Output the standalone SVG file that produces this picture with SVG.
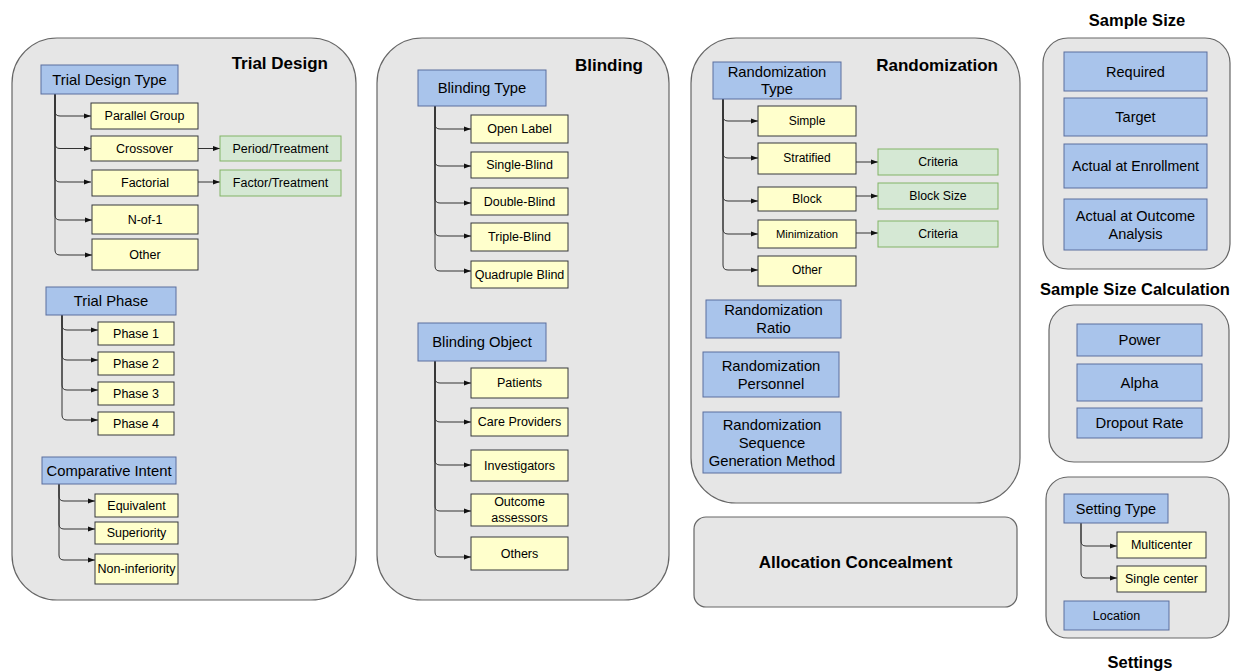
<svg xmlns="http://www.w3.org/2000/svg" width="1240" height="672" viewBox="0 0 1240 672">
  <style>
    text { font-family: "Liberation Sans", Arial, Helvetica, sans-serif; fill: #000; }
    .panel { fill: #e6e6e6; stroke: #666666; stroke-width: 1.2; }
    .title { font-weight: bold; font-size: 17px; }
    .head { fill: #a9c4eb; stroke: #5b6e9e; stroke-width: 1; }
    .opt { fill: #ffffcc; stroke: #36393d; stroke-width: 1; }
    .sub { fill: #d5e8d4; stroke: #82b366; stroke-width: 1; }
    .ht { font-size: 14.8px; text-anchor: middle; }
    .ot { font-size: 12.5px; text-anchor: middle; }
    .st { font-size: 12.5px; text-anchor: middle; }
    .edge { fill: none; stroke: #333333; stroke-width: 1; marker-end: url(#arrow); }
  </style>
  <defs>
    <marker id="arrow" viewBox="0 0 10 10" refX="10" refY="5" markerWidth="7" markerHeight="7" markerUnits="userSpaceOnUse" orient="auto">
      <path d="M0,1.5 L10,5 L0,8.5 Z" fill="#111111"/>
    </marker>
  </defs>

  <!-- ===== Panels ===== -->
  <g id="panel-trial-design">
    <rect class="panel" x="12" y="38" width="344" height="562" rx="45"/>
    <text class="title" x="328" y="69" text-anchor="end">Trial Design</text>
  </g>
  <g id="panel-blinding">
    <rect class="panel" x="377" y="38" width="292" height="562" rx="45"/>
    <text class="title" x="643" y="71" text-anchor="end">Blinding</text>
  </g>
  <g id="panel-randomization">
    <rect class="panel" x="691" y="38" width="329" height="465" rx="45"/>
    <text class="title" x="998" y="71" text-anchor="end">Randomization</text>
  </g>
  <g id="allocation-concealment">
    <rect class="panel" x="694" y="517" width="323" height="90" rx="12"/>
    <text class="title" x="855.5" y="562" dy="0.35em" text-anchor="middle">Allocation Concealment</text>
  </g>
  <g id="panel-sample-size">
    <text class="title" x="1137" y="26" text-anchor="middle" style="font-size:16.5px">Sample Size</text>
    <rect class="panel" x="1043" y="38" width="187" height="231" rx="25"/>
  </g>
  <g id="panel-sample-size-calculation">
    <text class="title" x="1135" y="295" text-anchor="middle" style="font-size:16.5px">Sample Size Calculation</text>
    <rect class="panel" x="1049" y="305" width="180" height="157" rx="25"/>
  </g>
  <g id="panel-settings">
    <rect class="panel" x="1046" y="477" width="183" height="161" rx="22"/>
    <text class="title" x="1140" y="668" text-anchor="middle" style="font-size:16.5px">Settings</text>
  </g>

  <!-- ===== Connectors ===== -->
  <g id="connectors">
    <!-- Trial Design Type -->
    <path class="edge" d="M55,94 V111 Q55,116 60,116 H91"/>
    <path class="edge" d="M55,94 V143.5 Q55,148.5 60,148.5 H91"/>
    <path class="edge" d="M55,94 V177 Q55,182 60,182 H91"/>
    <path class="edge" d="M55,94 V215 Q55,220 60,220 H92"/>
    <path class="edge" d="M55,94 V250 Q55,255 60,255 H92"/>
    <path class="edge" d="M198,148.5 H220"/>
    <path class="edge" d="M198,182 H220"/>
    <!-- Trial Phase -->
    <path class="edge" d="M62,315 V325 Q62,330 67,330 H98"/>
    <path class="edge" d="M62,315 V355 Q62,360 67,360 H98"/>
    <path class="edge" d="M62,315 V385 Q62,390 67,390 H98"/>
    <path class="edge" d="M62,315 V415 Q62,420 67,420 H98"/>
    <!-- Comparative Intent -->
    <path class="edge" d="M59,484 V496 Q59,501 64,501 H95"/>
    <path class="edge" d="M59,484 V524 Q59,529 64,529 H95"/>
    <path class="edge" d="M59,484 V555 Q59,560 64,560 H95"/>
    <!-- Blinding Type -->
    <path class="edge" d="M435,106 V124 Q435,129 440,129 H471"/>
    <path class="edge" d="M435,106 V161 Q435,166 440,166 H471"/>
    <path class="edge" d="M435,106 V198 Q435,203 440,203 H471"/>
    <path class="edge" d="M435,106 V231 Q435,236 440,236 H471"/>
    <path class="edge" d="M435,106 V266 Q435,271 440,271 H471"/>
    <!-- Blinding Object -->
    <path class="edge" d="M435,361 V378 Q435,383 440,383 H471"/>
    <path class="edge" d="M435,361 V417 Q435,422 440,422 H471"/>
    <path class="edge" d="M435,361 V460 Q435,465 440,465 H471"/>
    <path class="edge" d="M435,361 V506 Q435,511 440,511 H471"/>
    <path class="edge" d="M435,361 V552 Q435,557 440,557 H471"/>
    <!-- Randomization Type -->
    <path class="edge" d="M723,99 V116 Q723,121 728,121 H758"/>
    <path class="edge" d="M723,99 V153 Q723,158 728,158 H758"/>
    <path class="edge" d="M723,99 V196 Q723,201 728,201 H758"/>
    <path class="edge" d="M723,99 V229 Q723,234 728,234 H758"/>
    <path class="edge" d="M723,99 V265 Q723,270 728,270 H758"/>
    <path class="edge" d="M856,162 H878"/>
    <path class="edge" d="M856,196 H878"/>
    <path class="edge" d="M856,233 H878"/>
    <!-- Setting Type -->
    <path class="edge" d="M1081,523 V541 Q1081,546 1086,546 H1117"/>
    <path class="edge" d="M1081,523 V573 Q1081,578 1086,578 H1117"/>
  </g>

  <!-- ===== Trial Design nodes ===== -->
  <g id="trial-design-type"><rect class="head" x="41" y="65" width="137" height="29"/><text class="ht" x="109.5" y="79.5" dy="0.35em">Trial Design Type</text></g>
  <g id="parallel-group"><rect class="opt" x="91" y="103" width="107" height="26"/><text class="ot" x="144.5" y="116" dy="0.35em">Parallel Group</text></g>
  <g id="crossover"><rect class="opt" x="91" y="136" width="107" height="25"/><text class="ot" x="144.5" y="148.5" dy="0.35em">Crossover</text></g>
  <g id="factorial"><rect class="opt" x="92" y="170" width="106" height="26"/><text class="ot" x="145" y="183" dy="0.35em">Factorial</text></g>
  <g id="n-of-1"><rect class="opt" x="92" y="205" width="106" height="29"/><text class="ot" x="145" y="219.5" dy="0.35em">N-of-1</text></g>
  <g id="other-design"><rect class="opt" x="92" y="239" width="106" height="31"/><text class="ot" x="145" y="254.5" dy="0.35em">Other</text></g>
  <g id="period-treatment"><rect class="sub" x="220" y="136" width="121" height="25"/><text class="st" x="280.5" y="148.5" dy="0.35em">Period/Treatment</text></g>
  <g id="factor-treatment"><rect class="sub" x="220" y="170" width="121" height="26"/><text class="st" x="280.5" y="183" dy="0.35em">Factor/Treatment</text></g>

  <g id="trial-phase"><rect class="head" x="46" y="287" width="130" height="28"/><text class="ht" x="111" y="301" dy="0.35em">Trial Phase</text></g>
  <g id="phase-1"><rect class="opt" x="98" y="322" width="76" height="23"/><text class="ot" x="136" y="333.5" dy="0.35em">Phase 1</text></g>
  <g id="phase-2"><rect class="opt" x="98" y="352" width="76" height="23"/><text class="ot" x="136" y="363.5" dy="0.35em">Phase 2</text></g>
  <g id="phase-3"><rect class="opt" x="98" y="382" width="76" height="23"/><text class="ot" x="136" y="393.5" dy="0.35em">Phase 3</text></g>
  <g id="phase-4"><rect class="opt" x="98" y="412" width="76" height="23"/><text class="ot" x="136" y="423.5" dy="0.35em">Phase 4</text></g>

  <g id="comparative-intent"><rect class="head" x="42" y="457" width="134" height="27"/><text class="ht" x="109" y="470.5" dy="0.35em">Comparative Intent</text></g>
  <g id="equivalent"><rect class="opt" x="95" y="494" width="83" height="23"/><text class="ot" x="136.5" y="505.5" dy="0.35em">Equivalent</text></g>
  <g id="superiority"><rect class="opt" x="95" y="522" width="83" height="22"/><text class="ot" x="136.5" y="533" dy="0.35em">Superiority</text></g>
  <g id="non-inferiority"><rect class="opt" x="95" y="554" width="83" height="30"/><text class="ot" x="136.5" y="569" dy="0.35em">Non-inferiority</text></g>

  <!-- ===== Blinding nodes ===== -->
  <g id="blinding-type"><rect class="head" x="418" y="70" width="128" height="36"/><text class="ht" x="482" y="88" dy="0.35em">Blinding Type</text></g>
  <g id="open-label"><rect class="opt" x="471" y="115" width="97" height="28"/><text class="ot" x="519.5" y="129" dy="0.35em">Open Label</text></g>
  <g id="single-blind"><rect class="opt" x="471" y="152" width="97" height="26"/><text class="ot" x="519.5" y="165" dy="0.35em">Single-Blind</text></g>
  <g id="double-blind"><rect class="opt" x="471" y="188" width="97" height="27"/><text class="ot" x="519.5" y="201.5" dy="0.35em">Double-Blind</text></g>
  <g id="triple-blind"><rect class="opt" x="471" y="223" width="97" height="28"/><text class="ot" x="519.5" y="237" dy="0.35em">Triple-Blind</text></g>
  <g id="quadruple-blind"><rect class="opt" x="471" y="261" width="97" height="27"/><text class="ot" x="519.5" y="274.5" dy="0.35em">Quadruple Blind</text></g>

  <g id="blinding-object"><rect class="head" x="418" y="323" width="128" height="38"/><text class="ht" x="482" y="342" dy="0.35em">Blinding Object</text></g>
  <g id="patients"><rect class="opt" x="471" y="368" width="97" height="30"/><text class="ot" x="519.5" y="383" dy="0.35em">Patients</text></g>
  <g id="care-providers"><rect class="opt" x="471" y="408" width="97" height="28"/><text class="ot" x="519.5" y="422" dy="0.35em">Care Providers</text></g>
  <g id="investigators"><rect class="opt" x="471" y="450" width="97" height="31"/><text class="ot" x="519.5" y="465.5" dy="0.35em">Investigators</text></g>
  <g id="outcome-assessors"><rect class="opt" x="471" y="494" width="97" height="32"/><text class="ot" x="519.5" y="502" dy="0.35em">Outcome<tspan x="519.5" dy="16">assessors</tspan></text></g>
  <g id="others"><rect class="opt" x="471" y="537" width="97" height="33"/><text class="ot" x="519.5" y="553.5" dy="0.35em">Others</text></g>

  <!-- ===== Randomization nodes ===== -->
  <g id="randomization-type"><rect class="head" x="713" y="62" width="128" height="37"/><text class="ht" x="777" y="72" dy="0.35em">Randomization<tspan x="777" dy="17">Type</tspan></text></g>
  <g id="simple"><rect class="opt" x="758" y="106" width="98" height="30"/><text class="ot" x="807" y="121" dy="0.35em" style="font-size:12px">Simple</text></g>
  <g id="stratified"><rect class="opt" x="758" y="143" width="98" height="31"/><text class="ot" x="807" y="158" dy="0.35em" style="font-size:12px">Stratified</text></g>
  <g id="block"><rect class="opt" x="758" y="187" width="98" height="24"/><text class="ot" x="807" y="198.5" dy="0.35em" style="font-size:12px">Block</text></g>
  <g id="minimization"><rect class="opt" x="758" y="220" width="98" height="28"/><text class="ot" x="807" y="234" dy="0.35em" style="font-size:11.2px">Minimization</text></g>
  <g id="other-randomization"><rect class="opt" x="758" y="256" width="98" height="30"/><text class="ot" x="807" y="270" dy="0.35em" style="font-size:12px">Other</text></g>
  <g id="stratified-criteria"><rect class="sub" x="878" y="149" width="120" height="26"/><text class="st" x="938" y="162" dy="0.35em" style="font-size:12.3px">Criteria</text></g>
  <g id="block-size"><rect class="sub" x="878" y="183" width="120" height="26"/><text class="st" x="938" y="196" dy="0.35em" style="font-size:12.3px">Block Size</text></g>
  <g id="minimization-criteria"><rect class="sub" x="878" y="221" width="120" height="26"/><text class="st" x="938" y="234" dy="0.35em" style="font-size:12.3px">Criteria</text></g>

  <g id="randomization-ratio"><rect class="head" x="706" y="300" width="135" height="38"/><text class="ht" x="773.5" y="310" dy="0.35em">Randomization<tspan x="773.5" dy="18">Ratio</tspan></text></g>
  <g id="randomization-personnel"><rect class="head" x="703" y="352" width="136" height="45"/><text class="ht" x="771" y="366" dy="0.35em">Randomization<tspan x="771" dy="18">Personnel</tspan></text></g>
  <g id="randomization-sequence"><rect class="head" x="703" y="412" width="138" height="61"/><text class="ht" x="772" y="425" dy="0.35em">Randomization<tspan x="772" dy="18">Sequence</tspan><tspan x="772" dy="18">Generation Method</tspan></text></g>

  <!-- ===== Sample Size nodes ===== -->
  <g id="required"><rect class="head" x="1064" y="52" width="143" height="39"/><text class="ht" x="1135.5" y="71.5" dy="0.35em" style="font-size:14.5px">Required</text></g>
  <g id="target"><rect class="head" x="1064" y="98" width="143" height="38"/><text class="ht" x="1135.5" y="117" dy="0.35em" style="font-size:14.5px">Target</text></g>
  <g id="actual-enrollment"><rect class="head" x="1064" y="144" width="143" height="44"/><text class="ht" x="1135.5" y="166" dy="0.35em" style="font-size:14.2px">Actual at Enrollment</text></g>
  <g id="actual-outcome"><rect class="head" x="1064" y="199" width="143" height="51"/><text class="ht" x="1135.5" y="216" dy="0.35em" style="font-size:14.5px">Actual at Outcome<tspan x="1135.5" dy="18">Analysis</tspan></text></g>

  <g id="power"><rect class="head" x="1077" y="324" width="125" height="32"/><text class="ht" x="1139.5" y="340" dy="0.35em">Power</text></g>
  <g id="alpha"><rect class="head" x="1077" y="364" width="125" height="37"/><text class="ht" x="1139.5" y="382.5" dy="0.35em">Alpha</text></g>
  <g id="dropout-rate"><rect class="head" x="1077" y="408" width="125" height="30"/><text class="ht" x="1139.5" y="423" dy="0.35em">Dropout Rate</text></g>

  <!-- ===== Settings nodes ===== -->
  <g id="setting-type"><rect class="head" x="1064" y="494" width="104" height="29"/><text class="ht" x="1116" y="508.5" dy="0.35em" style="font-size:14.5px">Setting Type</text></g>
  <g id="multicenter"><rect class="opt" x="1117" y="532" width="89" height="26"/><text class="ot" x="1161.5" y="545" dy="0.35em">Multicenter</text></g>
  <g id="single-center"><rect class="opt" x="1117" y="566" width="89" height="26"/><text class="ot" x="1161.5" y="579" dy="0.35em">Single center</text></g>
  <g id="location"><rect class="head" x="1064" y="601" width="105" height="29"/><text class="ot" x="1116.5" y="615.5" dy="0.35em">Location</text></g>
</svg>
